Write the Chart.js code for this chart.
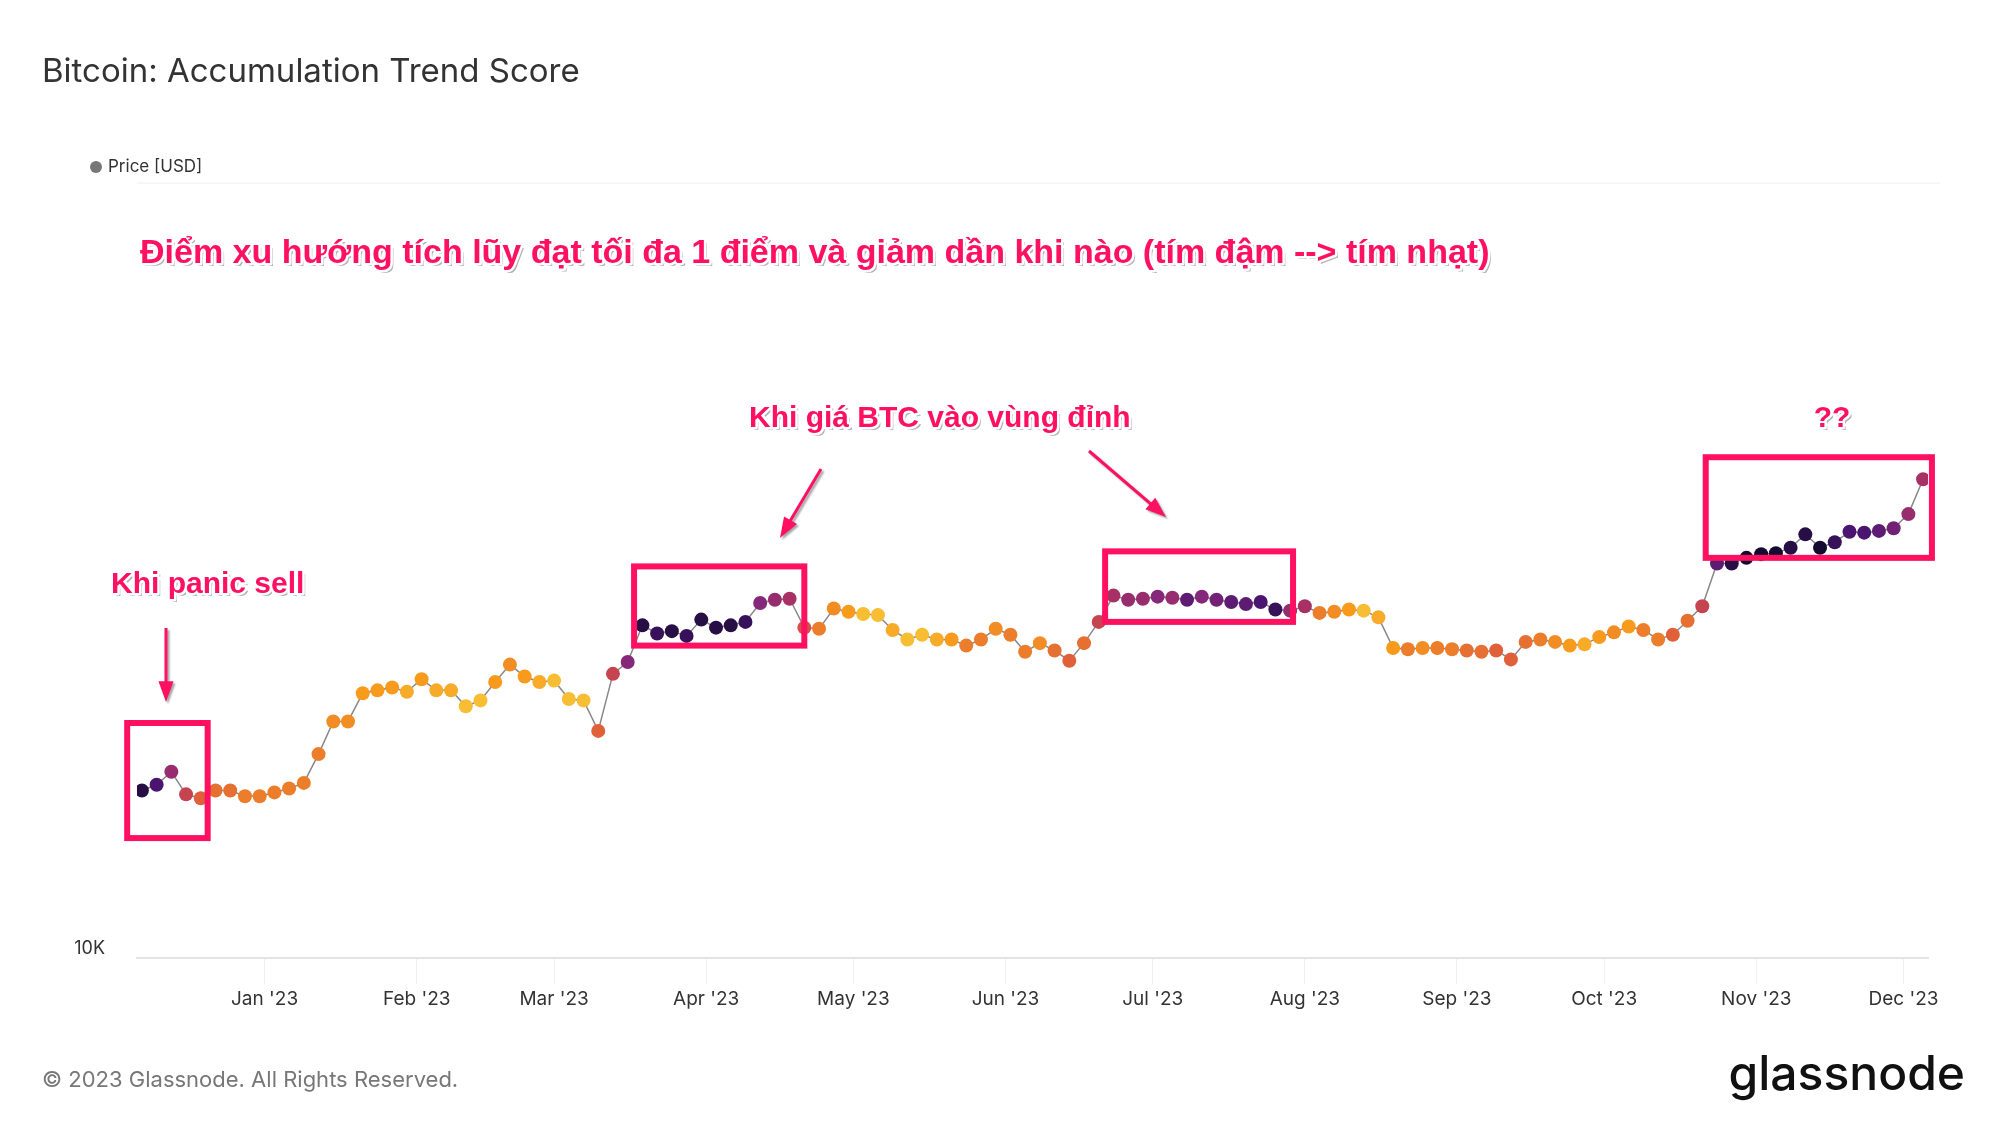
<!DOCTYPE html>
<html>
<head>
<meta charset="utf-8">
<script src="https://cdn.jsdelivr.net/npm/chart.js@4.4.0/dist/chart.umd.min.js"></script>
<style>
  html, body { margin: 0; padding: 0; background: #fff; }
  #wrap { position: relative; width: 1998px; height: 1125px; }
</style>
</head>
<body>
<div id="wrap"><canvas id="chart" width="1998" height="1125"></canvas></div>
<script>
// days from Jan 1 2023, one point every 3 days starting Dec 7 2022
const startDay = -25;
const stepDays = 3;

// BTC price in thousand USD
const prices = [
  16.8, 17.1, 17.8, 16.6, 16.4, 16.8, 16.8, 16.5, 16.5, 16.7,
  16.9, 17.2, 18.8, 20.8, 20.8, 22.7, 22.9, 23.1, 22.8, 23.7,
  22.9, 22.9, 21.8, 22.2, 23.5, 24.8, 23.9, 23.5, 23.6, 22.3,
  22.2, 20.2, 24.1, 25.0, 28.0, 27.3, 27.5, 27.1, 28.5, 27.8,
  28.0, 28.3, 30.0, 30.3, 30.4, 27.8, 27.7, 29.5, 29.2, 29.0,
  28.9, 27.6, 26.8, 27.2, 26.8, 26.8, 26.3, 26.8, 27.7, 27.2,
  25.8, 26.5, 25.9, 25.1, 26.5, 28.3, 30.7, 30.3, 30.4, 30.6,
  30.5, 30.3, 30.6, 30.3, 30.1, 29.9, 30.1, 29.4, 29.3, 29.7,
  29.1, 29.2, 29.4, 29.3, 28.7, 26.1, 26.0, 26.1, 26.1, 26.0,
  25.9, 25.8, 25.9, 25.2, 26.6, 26.8, 26.6, 26.3, 26.4, 27.0,
  27.4, 27.9, 27.6, 26.8, 27.2, 28.4, 29.7, 33.9, 33.9, 34.5,
  34.9, 35.0, 35.6, 37.1, 35.6, 36.2, 37.4, 37.3, 37.5, 37.8,
  39.5, 44.0
];

// accumulation trend score 0..1
const scores = [
  .95, .85, .65, .5, .4, .35, .35, .3, .3, .3,
  .3, .3, .3, .25, .25, .2, .2, .2, .15, .2,
  .15, .15, .1, .1, .2, .25, .2, .15, .1, .1,
  .1, .4, .5, .7, .95, .9, .95, .9, .95, .95,
  .95, .9, .7, .65, .6, .45, .3, .25, .2, .1,
  .1, .15, .1, .1, .15, .2, .3, .3, .25, .3,
  .3, .25, .35, .4, .35, .5, .6, .65, .65, .7,
  .65, .8, .7, .75, .8, .8, .85, .9, .65, .6,
  .3, .25, .2, .1, .15, .2, .3, .25, .3, .3,
  .35, .35, .4, .4, .35, .3, .25, .2, .15, .2,
  .25, .2, .3, .3, .4, .35, .5, .8, .95, 1,
  1, 1, .95, .95, 1, .9, .85, .85, .8, .75,
  .65, .6
];

const monthTicks = [0, 31, 59, 90, 120, 151, 181, 212, 243, 273, 304, 334];
const monthLabels = ["Jan '23", "Feb '23", "Mar '23", "Apr '23", "May '23", "Jun '23",
  "Jul '23", "Aug '23", "Sep '23", "Oct '23", "Nov '23", "Dec '23"];

// highlight boxes: [dayFrom, dayTo, priceHigh, priceLow]
const boxes = [
  [-28, -11.6, 20700, 14500],
  [75.3, 110, 33600, 26300],
  [171.3, 209.6, 35200, 28300],
  [293.7, 339.8, 47100, 34500]
];

const stops = [
  [0, [246, 223, 74]], [0.2, [248, 154, 28]], [0.4, [224, 96, 58]],
  [0.55, [184, 54, 90]], [0.7, [134, 40, 122]], [0.85, [74, 20, 112]], [1, [21, 11, 48]]
];
function scoreColor(s) {
  for (let i = 1; i < stops.length; i++) {
    if (s <= stops[i][0]) {
      const a = stops[i - 1], b = stops[i];
      const t = (s - a[0]) / (b[0] - a[0]);
      const c = a[1].map((v, k) => Math.round(v + (b[1][k] - v) * t));
      return `rgb(${c[0]},${c[1]},${c[2]})`;
    }
  }
  return 'rgb(21,11,48)';
}

const points = prices.map((p, i) => ({ x: startDay + i * stepDays, y: p * 1000 }));
const colors = scores.map(scoreColor);

function arrow(ctx, x1, y1, x2, y2) {
  const ang = Math.atan2(y2 - y1, x2 - x1);
  ctx.save();
  ctx.strokeStyle = '#ff1060';
  ctx.fillStyle = '#ff1060';
  ctx.shadowColor = 'rgba(0,0,0,0.35)';
  ctx.shadowOffsetX = 2; ctx.shadowOffsetY = 2; ctx.shadowBlur = 2;
  ctx.lineWidth = 3;
  ctx.beginPath();
  ctx.moveTo(x1, y1);
  ctx.lineTo(x2 - Math.cos(ang) * 14, y2 - Math.sin(ang) * 14);
  ctx.stroke();
  ctx.beginPath();
  ctx.moveTo(x2, y2);
  ctx.lineTo(x2 - Math.cos(ang - 0.35) * 22, y2 - Math.sin(ang - 0.35) * 22);
  ctx.lineTo(x2 - Math.cos(ang + 0.35) * 22, y2 - Math.sin(ang + 0.35) * 22);
  ctx.closePath();
  ctx.fill();
  ctx.restore();
}

function note(ctx, text, x, y, size, align) {
  ctx.save();
  ctx.font = `bold ${size}px "Liberation Sans", Arial, sans-serif`;
  ctx.textAlign = align || 'left';
  ctx.textBaseline = 'middle';
  ctx.fillStyle = 'rgba(0,0,0,0.3)';
  ctx.fillText(text, x + 3, y + 3);
  ctx.lineWidth = 5;
  ctx.strokeStyle = '#fff';
  ctx.lineJoin = 'round';
  ctx.strokeText(text, x, y);
  ctx.fillStyle = '#ff1060';
  ctx.fillText(text, x, y);
  ctx.restore();
}

const overlay = {
  id: 'overlay',
  beforeDraw(chart) {
    const ctx = chart.ctx;
    ctx.save();
    ctx.fillStyle = '#fff';
    ctx.fillRect(0, 0, chart.width, chart.height);
    ctx.fillStyle = '#333';
    ctx.font = '33px Inter, "Noto Sans", sans-serif';
    ctx.textBaseline = 'middle';
    ctx.fillText('Bitcoin: Accumulation Trend Score', 42, 72);
    ctx.fillStyle = '#777';
    ctx.beginPath(); ctx.arc(96, 167, 6, 0, Math.PI * 2); ctx.fill();
    ctx.fillStyle = '#333';
    ctx.font = '17px Inter, "Noto Sans", sans-serif';
    ctx.fillText('Price [USD]', 108, 167);
    ctx.strokeStyle = '#eeeeee'; ctx.lineWidth = 1;
    ctx.beginPath(); ctx.moveTo(137, 183); ctx.lineTo(1940, 183); ctx.stroke();
    ctx.fillStyle = '#777';
    ctx.font = '22px Inter, "Noto Sans", sans-serif';
    ctx.fillText('© 2023 Glassnode. All Rights Reserved.', 42, 1080);
    ctx.fillStyle = '#111';
    ctx.font = '500 48px Inter, "Noto Sans", sans-serif';
    ctx.textAlign = 'right';
    ctx.fillText('glassnode', 1965, 1076);
    ctx.restore();
  },
  afterDraw(chart) {
    const ctx = chart.ctx;
    const xs = chart.scales.x, ys = chart.scales.y;
    ctx.save();
    ctx.strokeStyle = '#ff1060';
    ctx.lineWidth = 6;
    boxes.forEach(b => {
      const x1 = xs.getPixelForValue(b[0]), x2 = xs.getPixelForValue(b[1]);
      const y1 = ys.getPixelForValue(b[2]), y2 = ys.getPixelForValue(b[3]);
      ctx.strokeRect(x1, y1, x2 - x1, y2 - y1);
    });
    ctx.restore();
    note(ctx, 'Điểm xu hướng tích lũy đạt tối đa 1 điểm và giảm dần khi nào (tím đậm --> tím nhạt)', 140, 254, 34);
    note(ctx, 'Khi giá BTC vào vùng đỉnh', 749, 419, 30);
    note(ctx, '??', 1832, 419, 30, 'center');
    note(ctx, 'Khi panic sell', 111, 585, 30);
    arrow(ctx, 166, 628, 166, 702);
    arrow(ctx, 821, 469, 780, 538);
    arrow(ctx, 1089, 451, 1166, 517);
  }
};

new Chart(document.getElementById('chart'), {
  type: 'line',
  data: {
    datasets: [{
      label: 'Price [USD]',
      data: points,
      borderColor: '#888',
      borderWidth: 1.5,
      pointBackgroundColor: colors,
      pointBorderColor: colors,
      pointRadius: 7,
      pointBorderWidth: 0,
      tension: 0
    }]
  },
  options: {
    responsive: false,
    animation: false,
    layout: { padding: { left: 0, right: 70, top: 183, bottom: 110 } },
    plugins: { legend: { display: false }, tooltip: { enabled: false } },
    scales: {
      x: {
        type: 'linear',
        min: -26,
        max: 339,
        afterBuildTicks: s => { s.ticks = monthTicks.map(v => ({ value: v })); },
        ticks: {
          callback: (v) => monthLabels[monthTicks.indexOf(v)],
          color: '#333',
          font: { size: 19, family: 'Inter, "Noto Sans", sans-serif' },
          maxRotation: 0,
          padding: 4
        },
        grid: { drawOnChartArea: false, tickLength: 26, color: '#f0f0f0' },
        border: { color: '#e4e4e4', width: 2 }
      },
      y: {
        type: 'logarithmic',
        min: 10000,
        max: 110000,
        afterBuildTicks: s => { s.ticks = [{ value: 10300 }]; },
        afterFit: s => { s.width = 137; },
        ticks: {
          callback: () => '10K',
          color: '#333',
          font: { size: 18, family: 'Inter, "Noto Sans", sans-serif' },
          padding: 24
        },
        grid: { display: false },
        border: { display: false }
      }
    }
  },
  plugins: [overlay]
});
</script>
</body>
</html>
